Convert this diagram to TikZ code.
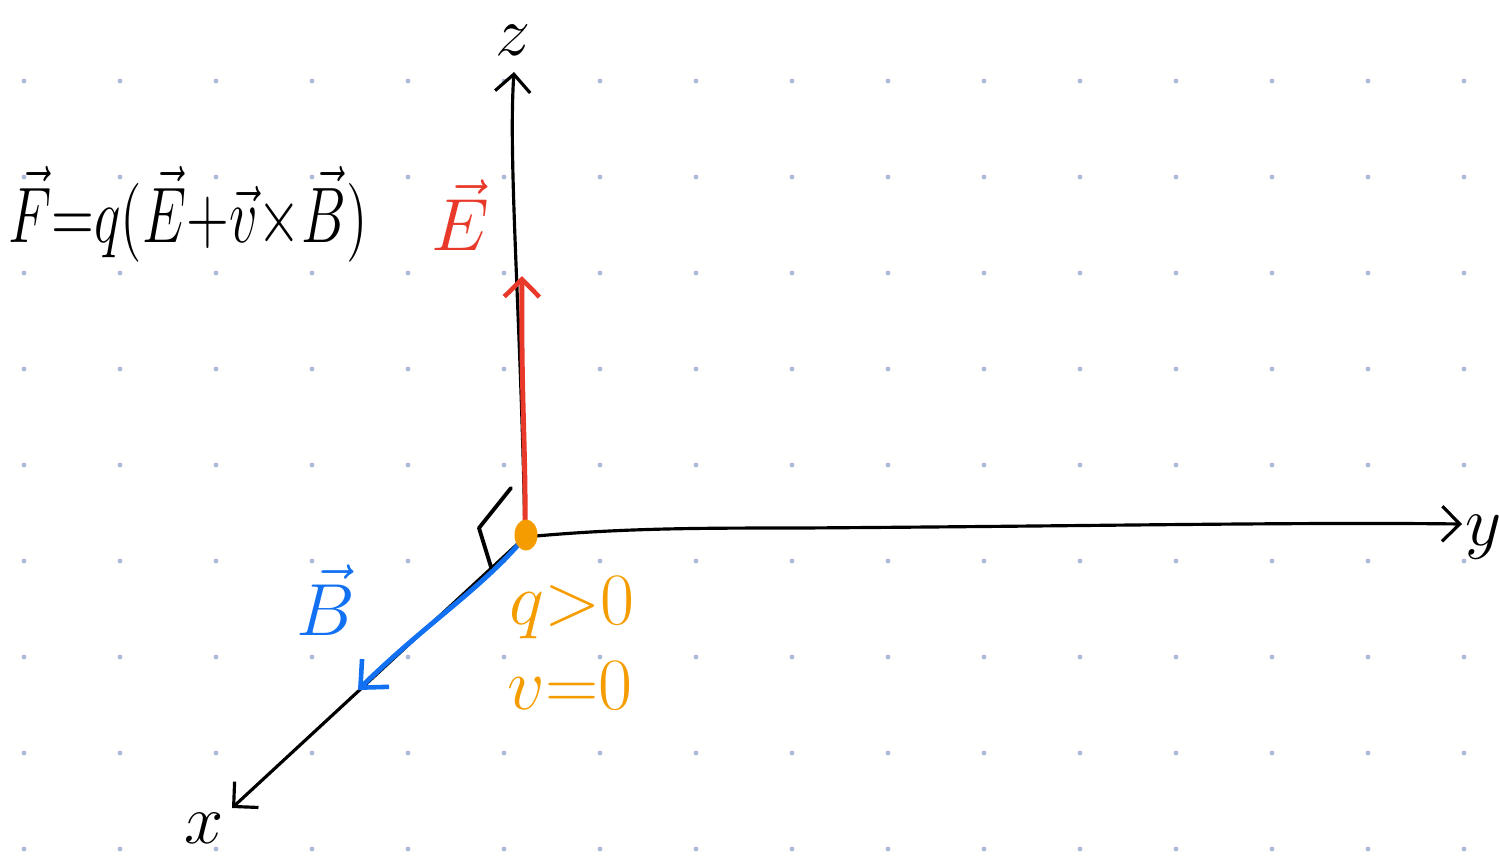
\RequirePackage{fix-cm}
\documentclass[tikz,border=0pt]{standalone}
\usetikzlibrary{arrows.meta,shapes.geometric}
\definecolor{gridc}{HTML}{A9BCD6}
\definecolor{efc}{HTML}{E8392A}
\definecolor{bfc}{HTML}{1271F2}
\definecolor{chc}{HTML}{F59D00}
\tikzset{
  axis/.style={line width=0.9pt, line cap=round, line join=round, -{Straight Barb[length=5pt,width=10pt,line width=0.9pt]}},
  efield/.style={efc, line width=1.4pt, line cap=round, -{Straight Barb[length=5pt,width=10pt,line width=1.3pt]}},
  bfield/.style={bfc, line width=1.4pt, line cap=round, -{Straight Barb[length=6pt,width=11pt,line width=1.3pt]}},
  rangle/.style={line width=1.1pt, line cap=round, line join=round},
  lab/.style={inner sep=0pt, font=\fontsize{20}{24}\selectfont},
  charge/.style={ellipse, fill=chc, inner sep=0pt, minimum width=0.23cm, minimum height=0.31cm},
}
\begin{document}
\begin{tikzpicture}[x=0.01cm,y=-0.01cm]
\useasboundingbox (0,0) rectangle (1499,856);
\fill[white] (0,0) rectangle (1499,856);
% dot grid
\foreach \i in {0,...,15}
  \foreach \j in {0,...,8}
    \fill[gridc] (24+96*\i, 81+96*\j) circle (0.024cm);
% coordinates
\coordinate (O) at (525,537);
\coordinate (zt) at (514,72);
\coordinate (yt) at (1462,524);
\coordinate (xt) at (232,808);
\coordinate (Et) at (522,276);
\coordinate (Bt) at (358,690);
\coordinate (r1) at (491,567);
\coordinate (r2) at (479,528);
\coordinate (r3) at (511,488);
% axes
\draw[axis] (O) .. controls (521,320) and (508,160) .. (zt);
\draw[axis] (O) .. controls (620,528) and (700,528) .. (800,528) .. controls (1100,526) and (1300,522) .. (yt);
\draw[axis] (O) -- (xt);
% fields
\draw[efield] (O) .. controls (526,450) and (521,400) .. (Et);
\draw[bfield] (O) .. controls (480,590) and (430,620) .. (Bt);
% right angle mark
\draw[rangle] (r1) -- (r2) -- (r3);
% charge
\node[charge] (q) at (526,535) {};
% labels
\node[lab] (zl) at (513,40) {$z$};
\node[lab] (yl) at (1484,537) {$y$};
\node[lab] (xl) at (204,828) {$x$};
\node[lab, text=efc, font=\fontsize{21}{24}\selectfont] (El) at (460,215) {$\vec E$};
\node[lab, text=bfc, font=\fontsize{21}{24}\selectfont] (Bl) at (326,600) {$\vec B$};
\node[lab, text=chc, font=\fontsize{21}{24}\selectfont] (qc) at (572,608) {$q{>}0$};
\node[lab, text=chc, font=\fontsize{21}{24}\selectfont] (vc) at (570,686) {$v{=}0$};
\node[lab, font=\fontsize{16}{20}\selectfont, yscale=1.4] (eq) at (188,214) {$\vec F{=}q(\vec E{+}\vec v{\times}\vec B)$};
\end{tikzpicture}
\end{document}
